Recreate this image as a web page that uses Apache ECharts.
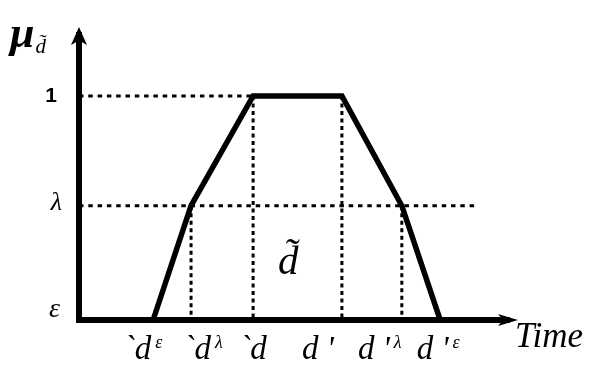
<!DOCTYPE html>
<html><head><meta charset="utf-8">
<script src="https://cdn.jsdelivr.net/npm/echarts@6/dist/echarts.min.js"></script>
<style>html,body{margin:0;padding:0;background:#fff}#c{width:590px;height:365px}</style>
</head><body><div id="c"></div>
<script>
// ---- data ----
const timePoints = [17.2, 26, 40.4, 61.0, 74.9, 83.8];   // `d^ε, `d^λ, `d, d', d'^λ, d'^ε
const membership = [0, 0.51, 1, 1, 0.51, 0];
const lambdaLevel = 0.51;
const lambdaGuideEnd = 92.6;
const tickBase = ['`d', '`d', '`d', "d '", "d '", "d '"];
const tickSup = ['ε', 'λ', '', '', 'λ', 'ε'];
const yLabelValues = [0, 0.51, 1];
const yLabelTexts = ['ε', 'λ', '1'];
const yMinorTicks = [0.2, 0.4, 0.6, 0.8];
const xAxisName = 'Time';
const yAxisTitle = 'μ';
const yAxisSub = 'd̃';
const setLabel = 'd̃';

// ---- styling ----
const SERIF = 'Liberation Serif';
const labelShift = [-10, 12, 0, -24, -22, -2];

const trapezoid = timePoints.map((x, i) => [x, membership[i]]);
const guides = [
  [[0, 1], [timePoints[2], 1]],
  [[0, lambdaLevel], [lambdaGuideEnd, lambdaLevel]],
  [[timePoints[1], lambdaLevel], [timePoints[1], 0]],
  [[timePoints[2], 1], [timePoints[2], 0]],
  [[timePoints[3], 1], [timePoints[3], 0]],
  [[timePoints[4], lambdaLevel], [timePoints[4], 0]]
];

const chart = echarts.init(document.getElementById('c'), null, {renderer: 'canvas'});
chart.setOption({
  backgroundColor: '#fff',
  animation: false,
  title: [
    {
      text: '{m|' + yAxisTitle + '}{s|' + yAxisSub + '}',
      left: 5, top: 9,
      textStyle: {
        fontFamily: SERIF, fontStyle: 'italic', fontWeight: 'bold', fontSize: 44, color: '#000',
        rich: {
          m: {fontFamily: SERIF, fontStyle: 'italic', fontWeight: 'bold', fontSize: 44, color: '#000'},
          s: {fontFamily: SERIF, fontStyle: 'italic', fontWeight: 'normal', fontSize: 21, color: '#000', verticalAlign: 'bottom', padding: [16, 0, 0, 1]}
        }
      }
    },
    {
      text: setLabel,
      left: 273, top: 238,
      textStyle: {fontFamily: SERIF, fontStyle: 'italic', fontWeight: 'normal', fontSize: 41, color: '#000'}
    }
  ],
  grid: {left: 79, right: 80, top: 35, bottom: 45, containLabel: false},
  xAxis: {
    type: 'value', min: 0, max: 100,
    name: xAxisName, nameLocation: 'end', nameGap: 5,
    nameTextStyle: {fontFamily: SERIF, fontStyle: 'italic', fontSize: 35, color: '#000', align: 'left', verticalAlign: 'top'},
    axisLine: {show: true, symbol: ['none', 'arrow'], symbolSize: [9, 20], symbolOffset: [0, 8], lineStyle: {color: '#000', width: 6, cap: 'butt'}},
    axisTick: {show: false},
    splitLine: {show: false},
    axisLabel: {show: false}
  },
  yAxis: {
    type: 'value', min: 0, max: 1.272,
    axisLine: {show: true, symbol: ['none', 'arrow'], symbolSize: [12, 18], symbolOffset: [0, 8], lineStyle: {color: '#000', width: 6, cap: 'square'}},
    axisTick: {show: true, inside: true, length: 3, customValues: yMinorTicks, lineStyle: {color: '#000', width: 1}},
    splitLine: {show: false},
    axisLabel: {
      show: true, margin: 17,
      fontFamily: SERIF, fontStyle: 'italic', fontSize: 26, color: '#000',
      customValues: yLabelValues,
      formatter: function (v) {
        const i = yLabelValues.indexOf(v);
        if (i < 0) return '';
        return '{' + ['e', 'l', 'o'][i] + '|' + yLabelTexts[i] + '}';
      },
      rich: {
        e: {fontFamily: SERIF, fontStyle: 'italic', fontSize: 28, color: '#000', padding: [0, 2, 20, 0]},
        l: {fontFamily: SERIF, fontStyle: 'italic', fontSize: 26, color: '#000', padding: [0, 0, 6, 0]},
        o: {fontFamily: 'Liberation Sans', fontStyle: 'normal', fontWeight: 'bold', fontSize: 21, color: '#000', padding: [0, 5, 0, 0]}
      }
    }
  },
  series: guides.map((g, k) => ({
    type: 'line', data: g, symbol: 'none', silent: true, z: 2,
    lineStyle: {color: '#000', width: 3, type: k < 2 ? [4.5, 4.8] : [4, 3.5]}
  })).concat([{
    type: 'line', data: trapezoid, symbol: 'none', silent: true, z: 5,
    lineStyle: {color: '#000', width: 5.5, join: 'miter'}
  }, {
    type: 'scatter', silent: true, symbolSize: 0, z: 6,
    itemStyle: {opacity: 1, color: '#000'},
    data: timePoints.map((x) => [x, 0]),
    label: {
      show: true, position: 'bottom', distance: 14,
      fontFamily: SERIF, fontStyle: 'italic', fontSize: 33, color: '#000', opacity: 1,
      formatter: function (p) {
        const i = p.dataIndex;
        let s = '{b|' + tickBase[i] + '}';
        if (tickSup[i]) s += '{s|' + tickSup[i] + '}';
        return s;
      },
      rich: {
        b: {fontFamily: SERIF, fontStyle: 'italic', fontSize: 33, color: '#000'},
        s: {fontFamily: SERIF, fontStyle: 'italic', fontSize: 18, color: '#000', verticalAlign: 'top', lineHeight: 18, padding: [0, 0, 0, 4]}
      }
    },
    labelLayout: function (params) {
      return {dx: labelShift[params.dataIndex], hideOverlap: false};
    }
  }])
});
</script></body></html>
